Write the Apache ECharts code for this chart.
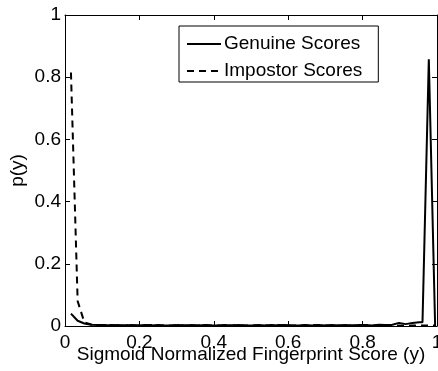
<!DOCTYPE html>
<html>
<head>
<meta charset="utf-8">
<script src="https://cdn.jsdelivr.net/npm/echarts@6/dist/echarts.min.js"></script>
<style>
  html, body { margin: 0; padding: 0; background: #fff; }
  #chart { width: 438px; height: 371px; }
</style>
</head>
<body>
<div id="chart"></div>
<script>
// bin centres (score y)
const scoreX = [0.016, 0.034, 0.052, 0.07, 0.088, 0.106, 0.124, 0.142, 0.16, 0.178,
  0.196, 0.214, 0.232, 0.25, 0.268, 0.286, 0.304, 0.322, 0.34, 0.358,
  0.376, 0.394, 0.412, 0.43, 0.448, 0.466, 0.484, 0.502, 0.52, 0.538,
  0.556, 0.574, 0.592, 0.61, 0.628, 0.646, 0.664, 0.682, 0.7, 0.718,
  0.736, 0.754, 0.772, 0.79, 0.808, 0.826, 0.844, 0.862, 0.88, 0.898,
  0.916, 0.934, 0.952, 0.961, 0.978, 0.995];
const genuine = [0.04, 0.017, 0.008, 0.004, 0.003, 0.003, 0.002, 0.003, 0.002, 0.003,
  0.002, 0.003, 0.002, 0.003, 0.002, 0.002, 0.003, 0.002, 0.003, 0.002,
  0.003, 0.002, 0.002, 0.003, 0.002, 0.003, 0.002, 0.002, 0.003, 0.002,
  0.003, 0.002, 0.003, 0.002, 0.002, 0.003, 0.002, 0.003, 0.002, 0.003,
  0.002, 0.003, 0.002, 0.003, 0.003, 0.002, 0.004, 0.003, 0.004, 0.01,
  0.006, 0.01, 0.012, 0.012, 0.858, 0.0];
const impostor = [0.815, 0.08, 0.012, 0.005, 0.003, 0.002, 0.003, 0.002, 0.002, 0.003,
  0.002, 0.002, 0.003, 0.002, 0.002, 0.002, 0.003, 0.002, 0.002, 0.002,
  0.003, 0.002, 0.002, 0.002, 0.002, 0.003, 0.002, 0.002, 0.002, 0.002,
  0.002, 0.003, 0.002, 0.002, 0.002, 0.002, 0.002, 0.003, 0.002, 0.002,
  0.002, 0.002, 0.002, 0.002, 0.003, 0.002, 0.002, 0.002, 0.002, 0.002,
  0.002, 0.002, 0.002, 0.002, 0.002, 0.002];
const seriesNames = ['Genuine Scores', 'Impostor Scores'];

const font = 'Liberation Sans, Arial, Helvetica, sans-serif';
const fs = 19;

const chart = echarts.init(document.getElementById('chart'));

// 画框四周的刻度（MATLAB风格）
function boxAxis(extra) {
  return Object.assign({
    type: 'value', min: 0, max: 1, interval: 0.2,
    axisLine: { show: true, onZero: false, lineStyle: { color: '#000', width: 1 } },
    axisTick: { show: true, inside: true, length: 5, lineStyle: { color: '#000' } },
    splitLine: { show: false },
    axisLabel: { show: false }
  }, extra);
}

chart.setOption({
  animation: false,
  backgroundColor: '#fff',
  textStyle: { fontFamily: font, color: '#000' },
  grid: { left: 65, right: 1, top: 15, bottom: 45, containLabel: false, outerBoundsMode: 'none' },
  legend: {
    orient: 'vertical',
    left: 179, top: 26,
    padding: [8, 16, 1, 7],
    itemGap: 7,
    itemWidth: 34, itemHeight: 14,
    borderColor: '#000', borderWidth: 1, borderRadius: 0,
    backgroundColor: '#fff',
    itemStyle: { opacity: 0 },
    textStyle: { fontFamily: font, fontSize: fs, lineHeight: 20, color: '#000', padding: [0, 0, 0, -2] },
    data: seriesNames
  },
  xAxis: [
    boxAxis({
      position: 'bottom',
      axisLabel: { show: true, fontFamily: font, fontSize: fs, color: '#000', margin: 7 },
      name: 'Sigmoid Normalized Fingerprint Score (y)',
      nameLocation: 'middle', nameGap: 19, nameMoveOverlap: false,
      nameTextStyle: { fontFamily: font, fontSize: fs, color: '#000' }
    }),
    boxAxis({ position: 'top' })
  ],
  yAxis: [
    boxAxis({
      position: 'left',
      axisLabel: { show: true, fontFamily: font, fontSize: fs, color: '#000', margin: 4, padding: [4, 0, 0, 0] },
      name: 'p(y)',
      nameLocation: 'middle', nameGap: 38, nameMoveOverlap: false,
      nameTextStyle: { fontFamily: font, fontSize: fs, color: '#000' }
    }),
    boxAxis({ position: 'right' })
  ],
  series: [
    {
      name: seriesNames[0], type: 'line', symbol: 'none',
      data: scoreX.map((x, i) => [x, genuine[i]]),
      lineStyle: { color: '#000', width: 2 },
      itemStyle: { color: '#000' }
    },
    {
      name: seriesNames[1], type: 'line', symbol: 'none',
      data: scoreX.map((x, i) => [x, impostor[i]]),
      lineStyle: { color: '#000', width: 2, type: [7, 5] },
      itemStyle: { color: '#000' }
    }
  ]
});
</script>
</body>
</html>
